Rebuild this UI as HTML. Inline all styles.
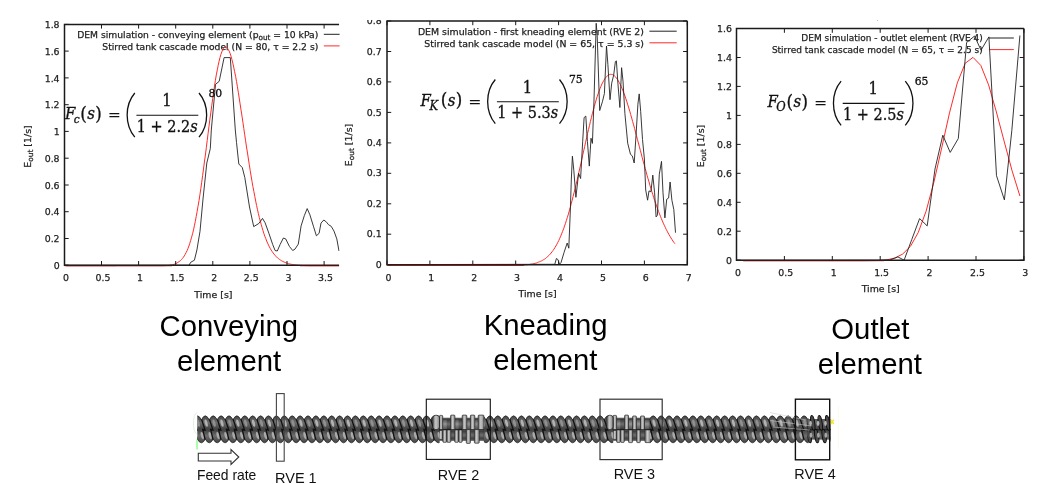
<!DOCTYPE html>
<html><head><meta charset="utf-8"><title>RTD</title>
<style>html,body{margin:0;padding:0;background:#fff}svg{display:block}</style></head>
<body>
<svg width="1063" height="484" viewBox="0 0 1063 484">
<defs>
<clipPath id="c1"><rect x="0" y="0" width="339.6" height="300"/></clipPath>
<clipPath id="c2"><rect x="340" y="20" width="352" height="285"/></clipPath>
</defs>
<rect width="1063" height="484" fill="#fff"/>
<g clip-path="url(#c1)">
<text x="65.9" y="281.1" text-anchor="middle" font-family="DejaVu Sans, Liberation Sans, sans-serif" stroke="#222" stroke-width="0.25" font-size="9.4" fill="#222">0</text>
<text x="102.9" y="281.1" text-anchor="middle" font-family="DejaVu Sans, Liberation Sans, sans-serif" stroke="#222" stroke-width="0.25" font-size="9.4" fill="#222">0.5</text>
<text x="140.0" y="281.1" text-anchor="middle" font-family="DejaVu Sans, Liberation Sans, sans-serif" stroke="#222" stroke-width="0.25" font-size="9.4" fill="#222">1</text>
<text x="177.1" y="281.1" text-anchor="middle" font-family="DejaVu Sans, Liberation Sans, sans-serif" stroke="#222" stroke-width="0.25" font-size="9.4" fill="#222">1.5</text>
<text x="214.2" y="281.1" text-anchor="middle" font-family="DejaVu Sans, Liberation Sans, sans-serif" stroke="#222" stroke-width="0.25" font-size="9.4" fill="#222">2</text>
<text x="251.3" y="281.1" text-anchor="middle" font-family="DejaVu Sans, Liberation Sans, sans-serif" stroke="#222" stroke-width="0.25" font-size="9.4" fill="#222">2.5</text>
<text x="288.4" y="281.1" text-anchor="middle" font-family="DejaVu Sans, Liberation Sans, sans-serif" stroke="#222" stroke-width="0.25" font-size="9.4" fill="#222">3</text>
<text x="325.5" y="281.1" text-anchor="middle" font-family="DejaVu Sans, Liberation Sans, sans-serif" stroke="#222" stroke-width="0.25" font-size="9.4" fill="#222">3.5</text>
<text x="59.6" y="268.9" text-anchor="end" font-family="DejaVu Sans, Liberation Sans, sans-serif" stroke="#222" stroke-width="0.25" font-size="9.4" fill="#222">0</text>
<text x="59.6" y="242.2" text-anchor="end" font-family="DejaVu Sans, Liberation Sans, sans-serif" stroke="#222" stroke-width="0.25" font-size="9.4" fill="#222">0.2</text>
<text x="59.6" y="215.4" text-anchor="end" font-family="DejaVu Sans, Liberation Sans, sans-serif" stroke="#222" stroke-width="0.25" font-size="9.4" fill="#222">0.4</text>
<text x="59.6" y="188.7" text-anchor="end" font-family="DejaVu Sans, Liberation Sans, sans-serif" stroke="#222" stroke-width="0.25" font-size="9.4" fill="#222">0.6</text>
<text x="59.6" y="161.9" text-anchor="end" font-family="DejaVu Sans, Liberation Sans, sans-serif" stroke="#222" stroke-width="0.25" font-size="9.4" fill="#222">0.8</text>
<text x="59.6" y="135.1" text-anchor="end" font-family="DejaVu Sans, Liberation Sans, sans-serif" stroke="#222" stroke-width="0.25" font-size="9.4" fill="#222">1</text>
<text x="59.6" y="108.4" text-anchor="end" font-family="DejaVu Sans, Liberation Sans, sans-serif" stroke="#222" stroke-width="0.25" font-size="9.4" fill="#222">1.2</text>
<text x="59.6" y="81.6" text-anchor="end" font-family="DejaVu Sans, Liberation Sans, sans-serif" stroke="#222" stroke-width="0.25" font-size="9.4" fill="#222">1.4</text>
<text x="59.6" y="54.8" text-anchor="end" font-family="DejaVu Sans, Liberation Sans, sans-serif" stroke="#222" stroke-width="0.25" font-size="9.4" fill="#222">1.6</text>
<text x="59.6" y="28.1" text-anchor="end" font-family="DejaVu Sans, Liberation Sans, sans-serif" stroke="#222" stroke-width="0.25" font-size="9.4" fill="#222">1.8</text>
<text transform="translate(30.5 146.5) rotate(-90)" text-anchor="middle" font-family="DejaVu Sans, Liberation Sans, sans-serif" stroke="#222" stroke-width="0.25" font-size="9.4" fill="#222">E<tspan font-size="7.4" dy="2">out</tspan><tspan dy="-2"> [1/s]</tspan></text>
<text x="213.4" y="297.5" text-anchor="middle" font-family="DejaVu Sans, Liberation Sans, sans-serif" stroke="#222" stroke-width="0.25" font-size="9.4" fill="#222">Time [s]</text>
<text x="77.2" y="38.1" textLength="241.1" lengthAdjust="spacingAndGlyphs" font-family="DejaVu Sans, Liberation Sans, sans-serif" stroke="#222" stroke-width="0.25" font-size="9.4" fill="#222">DEM simulation - conveying element (p<tspan font-size="7.4" dy="2">out</tspan><tspan dy="-2"> = 10 kPa)</tspan></text>
<text x="102.3" y="49.6" textLength="216.0" lengthAdjust="spacingAndGlyphs" font-family="DejaVu Sans, Liberation Sans, sans-serif" stroke="#222" stroke-width="0.25" font-size="9.4" fill="#222">Stirred tank cascade model (N = 80, τ = 2.2 s)</text>
<path d="M323.8 34.3H345.0" stroke="#222" stroke-width="1"/>
<path d="M323.8 45.9H345.0" stroke="#ff2a2a" stroke-width="1"/>
<polyline points="64.5,265.8 65.4,265.8 66.3,265.8 67.2,265.8 68.1,265.8 69.0,265.8 69.9,265.8 70.9,265.8 71.8,265.8 72.7,265.8 73.6,265.8 74.5,265.8 75.4,265.8 76.3,265.8 77.3,265.8 78.2,265.8 79.1,265.8 80.0,265.8 80.9,265.8 81.8,265.8 82.8,265.8 83.7,265.8 84.6,265.8 85.5,265.8 86.4,265.8 87.3,265.8 88.2,265.8 89.2,265.8 90.1,265.8 91.0,265.8 91.9,265.8 92.8,265.8 93.7,265.8 94.6,265.8 95.6,265.8 96.5,265.8 97.4,265.8 98.3,265.8 99.2,265.8 100.1,265.8 101.1,265.8 102.0,265.8 102.9,265.8 103.8,265.8 104.7,265.8 105.6,265.8 106.5,265.8 107.5,265.8 108.4,265.8 109.3,265.8 110.2,265.8 111.1,265.8 112.0,265.8 112.9,265.8 113.9,265.8 114.8,265.8 115.7,265.8 116.6,265.7 117.5,265.7 118.4,265.7 119.4,265.7 120.3,265.7 121.2,265.7 122.1,265.7 123.0,265.7 123.9,265.7 124.8,265.7 125.8,265.7 126.7,265.7 127.6,265.7 128.5,265.7 129.4,265.7 130.3,265.7 131.2,265.7 132.2,265.7 133.1,265.7 134.0,265.7 134.9,265.7 135.8,265.7 136.7,265.7 137.7,265.7 138.6,265.7 139.5,265.7 140.4,265.7 141.3,265.7 142.2,265.7 143.1,265.7 144.1,265.7 145.0,265.7 145.9,265.7 146.8,265.7 147.7,265.7 148.6,265.7 149.5,265.7 150.5,265.7 151.4,265.7 152.3,265.7 153.2,265.7 154.1,265.7 155.0,265.7 156.0,265.7 156.9,265.7 157.8,265.7 158.7,265.7 159.6,265.7 160.5,265.7 161.4,265.7 162.4,265.7 163.3,265.7 164.2,265.6 165.1,265.6 166.0,265.6 166.9,265.5 167.8,265.5 168.8,265.4 169.7,265.3 170.6,265.1 171.5,265.0 172.4,264.8 173.3,264.5 174.3,264.3 175.2,263.9 176.1,263.5 177.0,263.0 177.9,262.4 178.8,261.8 179.7,261.2 180.7,260.4 181.6,259.5 182.5,258.4 183.4,257.2 184.3,255.9 185.2,254.3 186.1,252.6 187.1,250.6 188.0,248.4 188.9,246.0 189.8,243.3 190.7,240.4 191.6,237.2 192.6,233.7 193.5,229.9 194.4,225.8 195.3,221.4 196.2,216.6 197.1,211.6 198.0,206.3 199.0,200.7 199.9,194.8 200.8,188.7 201.7,182.3 202.6,175.7 203.5,169.0 204.4,162.0 205.4,155.0 206.3,147.8 207.2,140.6 208.1,133.4 209.0,126.2 209.9,119.1 210.9,112.1 211.8,105.2 212.7,98.6 213.6,92.2 214.5,86.1 215.4,80.3 216.3,74.9 217.3,69.9 218.2,65.3 219.1,61.2 220.0,57.5 220.9,54.4 221.8,51.9 222.7,49.8 223.7,48.3 224.6,47.4 225.5,47.1 226.4,47.2 227.3,48.0 228.2,49.3 229.2,51.1 230.1,53.4 231.0,56.2 231.9,59.4 232.8,63.1 233.7,67.1 234.6,71.6 235.6,76.3 236.5,81.4 237.4,86.7 238.3,92.3 239.2,98.0 240.1,103.9 241.0,109.9 242.0,116.1 242.9,122.2 243.8,128.5 244.7,134.7 245.6,140.8 246.5,147.0 247.5,153.0 248.4,159.0 249.3,164.8 250.2,170.5 251.1,176.0 252.0,181.4 252.9,186.6 253.9,191.6 254.8,196.5 255.7,201.1 256.6,205.5 257.5,209.7 258.4,213.7 259.3,217.5 260.3,221.1 261.2,224.5 262.1,227.7 263.0,230.7 263.9,233.6 264.8,236.2 265.8,238.7 266.7,241.0 267.6,243.1 268.5,245.1 269.4,246.9 270.3,248.6 271.2,250.1 272.2,251.6 273.1,252.9 274.0,254.1 274.9,255.2 275.8,256.2 276.7,257.1 277.6,258.0 278.6,258.7 279.5,259.4 280.4,260.0 281.3,260.6 282.2,261.1 283.1,261.6 284.1,262.0 285.0,262.4 285.9,262.8 286.8,263.1 287.7,263.4 288.6,263.7 289.5,263.9 290.5,264.1 291.4,264.3 292.3,264.5 293.2,264.7 294.1,264.8 295.0,264.9 295.9,265.0 296.9,265.1 297.8,265.2 298.7,265.3 299.6,265.3 300.5,265.4 301.4,265.4 302.4,265.5 303.3,265.5 304.2,265.5 305.1,265.6 306.0,265.6 306.9,265.6 307.8,265.6 308.8,265.7 309.7,265.7 310.6,265.7 311.5,265.7 312.4,265.7 313.3,265.7 314.2,265.7 315.2,265.7 316.1,265.7 317.0,265.7 317.9,265.7 318.8,265.7 319.7,265.7 320.7,265.7 321.6,265.7 322.5,265.7 323.4,265.7 324.3,265.7 325.2,265.7 326.1,265.7 327.1,265.7 328.0,265.7 328.9,265.7 329.8,265.7 330.7,265.7 331.6,265.7 332.5,265.7 333.5,265.7 334.4,265.7 335.3,265.7 336.2,265.7 337.1,265.7 338.0,265.7 339.0,265.7" fill="none" stroke="#ff2a2a" stroke-width="1" stroke-linejoin="round"/>
<path d="M339.1 24.4L64.5 24.4L64.5 265.2L339.1 265.2" fill="none" stroke="#1a1a1a" stroke-width="1.5"/>
<path d="M64.5 265.2v-4.2M64.5 24.4v4.2M101.5 265.2v-4.2M101.5 24.4v4.2M138.6 265.2v-4.2M138.6 24.4v4.2M175.7 265.2v-4.2M175.7 24.4v4.2M212.8 265.2v-4.2M212.8 24.4v4.2M249.9 265.2v-4.2M249.9 24.4v4.2M287.0 265.2v-4.2M287.0 24.4v4.2M324.1 265.2v-4.2M324.1 24.4v4.2M64.5 265.2h4.2M64.5 238.5h4.2M64.5 211.7h4.2M64.5 185.0h4.2M64.5 158.2h4.2M64.5 131.4h4.2M64.5 104.7h4.2M64.5 77.9h4.2M64.5 51.1h4.2M64.5 24.4h4.2" fill="none" stroke="#1a1a1a" stroke-width="1"/>
<path d="M66 265.75H172M300 265.75H339.1" stroke="#7a0000" stroke-width="0.8"/>
<polyline points="64.5,265.3 189.0,265.3 190.7,262.3 194.4,260.2 196.9,250.0 200.0,231.3 203.0,199.0 206.8,163.0 210.3,148.6 211.3,130.0 215.5,84.4 219.2,81.3 224.1,57.6 230.3,57.6 235.3,130.0 236.5,142.4 238.8,164.0 242.3,167.6 244.8,177.5 249.5,207.0 253.7,226.6 258.8,223.5 262.5,218.4 265.1,222.8 268.9,233.3 272.7,244.5 275.1,250.5 277.3,251.0 280.1,244.5 283.4,238.0 285.7,238.9 289.4,246.4 292.7,250.5 295.0,249.1 298.3,244.1 301.1,225.9 304.3,215.7 307.2,208.6 309.9,214.8 313.6,226.8 316.4,235.8 319.1,233.3 321.0,223.1 323.8,220.0 326.6,222.2 328.4,224.6 331.2,226.3 334.0,231.1 336.8,238.9 339.0,251.0" fill="none" stroke="#222" stroke-width="0.9" stroke-linejoin="round"/>
</g>
<g clip-path="url(#c2)">
<text x="388.4" y="280.6" text-anchor="middle" font-family="DejaVu Sans, Liberation Sans, sans-serif" stroke="#222" stroke-width="0.25" font-size="9.4" fill="#222">0</text>
<text x="431.3" y="280.6" text-anchor="middle" font-family="DejaVu Sans, Liberation Sans, sans-serif" stroke="#222" stroke-width="0.25" font-size="9.4" fill="#222">1</text>
<text x="474.2" y="280.6" text-anchor="middle" font-family="DejaVu Sans, Liberation Sans, sans-serif" stroke="#222" stroke-width="0.25" font-size="9.4" fill="#222">2</text>
<text x="517.1" y="280.6" text-anchor="middle" font-family="DejaVu Sans, Liberation Sans, sans-serif" stroke="#222" stroke-width="0.25" font-size="9.4" fill="#222">3</text>
<text x="560.0" y="280.6" text-anchor="middle" font-family="DejaVu Sans, Liberation Sans, sans-serif" stroke="#222" stroke-width="0.25" font-size="9.4" fill="#222">4</text>
<text x="602.9" y="280.6" text-anchor="middle" font-family="DejaVu Sans, Liberation Sans, sans-serif" stroke="#222" stroke-width="0.25" font-size="9.4" fill="#222">5</text>
<text x="645.8" y="280.6" text-anchor="middle" font-family="DejaVu Sans, Liberation Sans, sans-serif" stroke="#222" stroke-width="0.25" font-size="9.4" fill="#222">6</text>
<text x="688.7" y="280.6" text-anchor="middle" font-family="DejaVu Sans, Liberation Sans, sans-serif" stroke="#222" stroke-width="0.25" font-size="9.4" fill="#222">7</text>
<text x="381.7" y="267.8" text-anchor="end" font-family="DejaVu Sans, Liberation Sans, sans-serif" stroke="#222" stroke-width="0.25" font-size="9.4" fill="#222">0</text>
<text x="381.7" y="237.3" text-anchor="end" font-family="DejaVu Sans, Liberation Sans, sans-serif" stroke="#222" stroke-width="0.25" font-size="9.4" fill="#222">0.1</text>
<text x="381.7" y="206.9" text-anchor="end" font-family="DejaVu Sans, Liberation Sans, sans-serif" stroke="#222" stroke-width="0.25" font-size="9.4" fill="#222">0.2</text>
<text x="381.7" y="176.4" text-anchor="end" font-family="DejaVu Sans, Liberation Sans, sans-serif" stroke="#222" stroke-width="0.25" font-size="9.4" fill="#222">0.3</text>
<text x="381.7" y="146.0" text-anchor="end" font-family="DejaVu Sans, Liberation Sans, sans-serif" stroke="#222" stroke-width="0.25" font-size="9.4" fill="#222">0.4</text>
<text x="381.7" y="115.5" text-anchor="end" font-family="DejaVu Sans, Liberation Sans, sans-serif" stroke="#222" stroke-width="0.25" font-size="9.4" fill="#222">0.5</text>
<text x="381.7" y="85.0" text-anchor="end" font-family="DejaVu Sans, Liberation Sans, sans-serif" stroke="#222" stroke-width="0.25" font-size="9.4" fill="#222">0.6</text>
<text x="381.7" y="54.6" text-anchor="end" font-family="DejaVu Sans, Liberation Sans, sans-serif" stroke="#222" stroke-width="0.25" font-size="9.4" fill="#222">0.7</text>
<text x="381.7" y="24.1" text-anchor="end" font-family="DejaVu Sans, Liberation Sans, sans-serif" stroke="#222" stroke-width="0.25" font-size="9.4" fill="#222">0.8</text>
<text transform="translate(351.6 145.0) rotate(-90)" text-anchor="middle" font-family="DejaVu Sans, Liberation Sans, sans-serif" stroke="#222" stroke-width="0.25" font-size="9.4" fill="#222">E<tspan font-size="7.4" dy="2">out</tspan><tspan dy="-2"> [1/s]</tspan></text>
<text x="537.6" y="297.3" text-anchor="middle" font-family="DejaVu Sans, Liberation Sans, sans-serif" stroke="#222" stroke-width="0.25" font-size="9.4" fill="#222">Time [s]</text>
<text x="417.9" y="35.2" textLength="226.0" lengthAdjust="spacingAndGlyphs" font-family="DejaVu Sans, Liberation Sans, sans-serif" stroke="#222" stroke-width="0.25" font-size="9.4" fill="#222">DEM simulation - first kneading element (RVE 2)</text>
<text x="424.3" y="47.0" textLength="219.6" lengthAdjust="spacingAndGlyphs" font-family="DejaVu Sans, Liberation Sans, sans-serif" stroke="#222" stroke-width="0.25" font-size="9.4" fill="#222">Stirred tank cascade model (N = 65, τ = 5.3 s)</text>
<path d="M649.4 31.2H676.7" stroke="#222" stroke-width="1"/>
<path d="M649.4 42.8H676.7" stroke="#ff2a2a" stroke-width="1"/>
<polyline points="387.0,265.2 388.0,265.2 388.9,265.2 389.9,265.2 390.8,265.2 391.8,265.2 392.8,265.2 393.7,265.2 394.7,265.2 395.6,265.2 396.6,265.2 397.6,265.2 398.5,265.2 399.5,265.2 400.4,265.2 401.4,265.2 402.4,265.2 403.3,265.2 404.3,265.2 405.2,265.2 406.2,265.2 407.2,265.2 408.1,265.2 409.1,265.2 410.0,265.2 411.0,265.2 411.9,265.2 412.9,265.2 413.9,265.2 414.8,265.2 415.8,265.2 416.7,265.2 417.7,265.2 418.7,265.2 419.6,265.2 420.6,265.2 421.5,265.2 422.5,265.2 423.5,265.2 424.4,265.2 425.4,265.2 426.3,265.2 427.3,265.2 428.3,265.2 429.2,265.2 430.2,265.2 431.1,265.2 432.1,265.2 433.1,265.2 434.0,265.2 435.0,265.2 435.9,265.2 436.9,265.2 437.9,265.2 438.8,265.2 439.8,265.2 440.7,265.2 441.7,265.2 442.7,265.2 443.6,265.2 444.6,265.2 445.5,265.2 446.5,265.2 447.5,265.2 448.4,265.2 449.4,265.2 450.3,265.2 451.3,265.2 452.2,265.2 453.2,265.2 454.2,265.2 455.1,265.2 456.1,265.2 457.0,265.2 458.0,265.2 459.0,265.2 459.9,265.2 460.9,265.2 461.8,265.2 462.8,265.2 463.8,265.2 464.7,265.2 465.7,265.2 466.6,265.2 467.6,265.2 468.6,265.2 469.5,265.2 470.5,265.2 471.4,265.2 472.4,265.2 473.4,265.2 474.3,265.2 475.3,265.2 476.2,265.2 477.2,265.2 478.2,265.2 479.1,265.2 480.1,265.2 481.0,265.2 482.0,265.2 483.0,265.2 483.9,265.2 484.9,265.2 485.8,265.2 486.8,265.2 487.8,265.2 488.7,265.2 489.7,265.2 490.6,265.2 491.6,265.2 492.5,265.2 493.5,265.2 494.5,265.2 495.4,265.2 496.4,265.2 497.3,265.2 498.3,265.2 499.3,265.2 500.2,265.2 501.2,265.2 502.1,265.2 503.1,265.2 504.1,265.2 505.0,265.2 506.0,265.2 506.9,265.2 507.9,265.2 508.9,265.2 509.8,265.2 510.8,265.2 511.7,265.2 512.7,265.2 513.7,265.2 514.6,265.2 515.6,265.1 516.5,265.1 517.5,265.1 518.5,265.1 519.4,265.1 520.4,265.0 521.3,265.0 522.3,265.0 523.3,264.9 524.2,264.9 525.2,264.8 526.1,264.8 527.1,264.7 528.1,264.6 529.0,264.5 530.0,264.4 530.9,264.2 531.9,264.1 532.8,263.9 533.8,263.7 534.8,263.4 535.7,263.2 536.7,262.9 537.6,262.5 538.6,262.1 539.6,261.7 540.5,261.3 541.5,260.9 542.4,260.4 543.4,259.8 544.4,259.2 545.3,258.6 546.3,257.8 547.2,257.0 548.2,256.1 549.2,255.2 550.1,254.2 551.1,253.0 552.0,251.8 553.0,250.5 554.0,249.1 554.9,247.6 555.9,246.0 556.8,244.3 557.8,242.4 558.8,240.5 559.7,238.4 560.7,236.2 561.6,233.9 562.6,231.4 563.6,228.8 564.5,226.1 565.5,223.3 566.4,220.4 567.4,217.3 568.4,214.1 569.3,210.8 570.3,207.4 571.2,203.8 572.2,200.2 573.1,196.4 574.1,192.6 575.1,188.7 576.0,184.7 577.0,180.6 577.9,176.4 578.9,172.2 579.9,168.0 580.8,163.7 581.8,159.4 582.7,155.1 583.7,150.8 584.7,146.4 585.6,142.2 586.6,137.9 587.5,133.7 588.5,129.5 589.5,125.5 590.4,121.5 591.4,117.6 592.3,113.8 593.3,110.1 594.3,106.6 595.2,103.1 596.2,99.9 597.1,96.8 598.1,93.9 599.1,91.1 600.0,88.6 601.0,86.2 601.9,84.0 602.9,82.1 603.9,80.3 604.8,78.8 605.8,77.5 606.7,76.4 607.7,75.6 608.7,74.9 609.6,74.5 610.6,74.3 611.5,74.4 612.5,74.6 613.4,75.1 614.4,75.8 615.4,76.7 616.3,77.9 617.3,79.2 618.2,80.7 619.2,82.4 620.2,84.3 621.1,86.3 622.1,88.6 623.0,90.9 624.0,93.5 625.0,96.1 625.9,98.9 626.9,101.9 627.8,104.9 628.8,108.0 629.8,111.3 630.7,114.6 631.7,118.0 632.6,121.4 633.6,124.9 634.6,128.5 635.5,132.1 636.5,135.7 637.4,139.3 638.4,143.0 639.4,146.7 640.3,150.3 641.3,153.9 642.2,157.6 643.2,161.2 644.2,164.7 645.1,168.3 646.1,171.7 647.0,175.2 648.0,178.6 649.0,181.9 649.9,185.2 650.9,188.4 651.8,191.5 652.8,194.6 653.7,197.6 654.7,200.5 655.7,203.4 656.6,206.1 657.6,208.8 658.5,211.4 659.5,213.9 660.5,216.4 661.4,218.7 662.4,221.0 663.3,223.2 664.3,225.3 665.3,227.4 666.2,229.4 667.2,231.2 668.1,233.0 669.1,234.8 670.1,236.4 671.0,238.0 672.0,239.5 672.9,241.0 673.9,242.4 674.9,243.7" fill="none" stroke="#ff2a2a" stroke-width="1" stroke-linejoin="round"/>
<path d="M687.3 21.0L387.0 21.0L387.0 264.7L687.3 264.7L687.3 21.0" fill="none" stroke="#1a1a1a" stroke-width="1.5"/>
<path d="M387.0 264.7v-4.2M387.0 21.0v4.2M429.9 264.7v-4.2M429.9 21.0v4.2M472.8 264.7v-4.2M472.8 21.0v4.2M515.7 264.7v-4.2M515.7 21.0v4.2M558.6 264.7v-4.2M558.6 21.0v4.2M601.5 264.7v-4.2M601.5 21.0v4.2M644.4 264.7v-4.2M644.4 21.0v4.2M687.3 264.7v-4.2M687.3 21.0v4.2M387.0 264.7h4.2M687.3 264.7h-4.2M387.0 234.2h4.2M687.3 234.2h-4.2M387.0 203.8h4.2M687.3 203.8h-4.2M387.0 173.3h4.2M687.3 173.3h-4.2M387.0 142.9h4.2M687.3 142.9h-4.2M387.0 112.4h4.2M687.3 112.4h-4.2M387.0 81.9h4.2M687.3 81.9h-4.2M387.0 51.5h4.2M687.3 51.5h-4.2M387.0 21.0h4.2M687.3 21.0h-4.2" fill="none" stroke="#1a1a1a" stroke-width="1"/>
<path d="M388.5 265.2H524" stroke="#7a0000" stroke-width="0.8"/>
<polyline points="386.8,264.6 554.8,264.3 556.4,258.5 557.9,259.5 559.5,264.3 561.0,262.6 564.1,252.3 567.2,243.0 568.8,248.2 570.3,211.0 571.3,180.0 572.4,156.2 573.8,170.2 575.9,197.3 578.6,173.3 580.6,178.5 582.7,141.3 584.1,117.6 585.8,116.1 587.4,141.3 589.3,166.1 591.0,138.2 592.4,143.4 594.0,100.0 596.2,23.3 597.2,35.7 599.7,110.5 602.4,101.8 604.4,93.5 606.5,46.0 607.9,64.6 610.0,99.7 611.7,83.2 613.7,75.0 615.4,61.5 616.4,60.9 617.9,83.2 619.9,107.5 621.6,67.7 623.0,81.1 624.9,113.5 627.7,143.2 630.5,154.4 632.3,155.9 634.2,163.0 636.0,135.8 637.9,104.2 639.2,93.9 640.7,111.6 642.5,139.5 644.4,159.0 645.7,190.0 647.6,200.2 649.0,190.9 650.9,191.8 652.8,175.1 654.6,192.8 656.1,216.9 657.4,215.1 659.3,174.2 661.5,161.4 663.0,192.8 664.9,217.9 666.7,199.3 668.6,198.0 670.1,182.0 671.9,200.2 673.8,209.5 675.5,232.7" fill="none" stroke="#222" stroke-width="0.9" stroke-linejoin="round"/>
</g>
<text x="737.9" y="275.9" text-anchor="middle" font-family="DejaVu Sans, Liberation Sans, sans-serif" stroke="#222" stroke-width="0.25" font-size="9.4" fill="#222">0</text>
<text x="785.8" y="275.9" text-anchor="middle" font-family="DejaVu Sans, Liberation Sans, sans-serif" stroke="#222" stroke-width="0.25" font-size="9.4" fill="#222">0.5</text>
<text x="833.7" y="275.9" text-anchor="middle" font-family="DejaVu Sans, Liberation Sans, sans-serif" stroke="#222" stroke-width="0.25" font-size="9.4" fill="#222">1</text>
<text x="881.6" y="275.9" text-anchor="middle" font-family="DejaVu Sans, Liberation Sans, sans-serif" stroke="#222" stroke-width="0.25" font-size="9.4" fill="#222">1.5</text>
<text x="929.5" y="275.9" text-anchor="middle" font-family="DejaVu Sans, Liberation Sans, sans-serif" stroke="#222" stroke-width="0.25" font-size="9.4" fill="#222">2</text>
<text x="977.4" y="275.9" text-anchor="middle" font-family="DejaVu Sans, Liberation Sans, sans-serif" stroke="#222" stroke-width="0.25" font-size="9.4" fill="#222">2.5</text>
<text x="1025.3" y="275.9" text-anchor="middle" font-family="DejaVu Sans, Liberation Sans, sans-serif" stroke="#222" stroke-width="0.25" font-size="9.4" fill="#222">3</text>
<text x="732.0" y="263.9" text-anchor="end" font-family="DejaVu Sans, Liberation Sans, sans-serif" stroke="#222" stroke-width="0.25" font-size="9.4" fill="#222">0</text>
<text x="732.0" y="234.9" text-anchor="end" font-family="DejaVu Sans, Liberation Sans, sans-serif" stroke="#222" stroke-width="0.25" font-size="9.4" fill="#222">0.2</text>
<text x="732.0" y="206.0" text-anchor="end" font-family="DejaVu Sans, Liberation Sans, sans-serif" stroke="#222" stroke-width="0.25" font-size="9.4" fill="#222">0.4</text>
<text x="732.0" y="177.0" text-anchor="end" font-family="DejaVu Sans, Liberation Sans, sans-serif" stroke="#222" stroke-width="0.25" font-size="9.4" fill="#222">0.6</text>
<text x="732.0" y="148.1" text-anchor="end" font-family="DejaVu Sans, Liberation Sans, sans-serif" stroke="#222" stroke-width="0.25" font-size="9.4" fill="#222">0.8</text>
<text x="732.0" y="119.1" text-anchor="end" font-family="DejaVu Sans, Liberation Sans, sans-serif" stroke="#222" stroke-width="0.25" font-size="9.4" fill="#222">1</text>
<text x="732.0" y="90.1" text-anchor="end" font-family="DejaVu Sans, Liberation Sans, sans-serif" stroke="#222" stroke-width="0.25" font-size="9.4" fill="#222">1.2</text>
<text x="732.0" y="61.2" text-anchor="end" font-family="DejaVu Sans, Liberation Sans, sans-serif" stroke="#222" stroke-width="0.25" font-size="9.4" fill="#222">1.4</text>
<text x="732.0" y="32.2" text-anchor="end" font-family="DejaVu Sans, Liberation Sans, sans-serif" stroke="#222" stroke-width="0.25" font-size="9.4" fill="#222">1.6</text>
<text transform="translate(704.0 146.0) rotate(-90)" text-anchor="middle" font-family="DejaVu Sans, Liberation Sans, sans-serif" stroke="#222" stroke-width="0.25" font-size="9.4" fill="#222">E<tspan font-size="7.4" dy="2">out</tspan><tspan dy="-2"> [1/s]</tspan></text>
<text x="880.7" y="291.8" text-anchor="middle" font-family="DejaVu Sans, Liberation Sans, sans-serif" stroke="#222" stroke-width="0.25" font-size="9.4" fill="#222">Time [s]</text>
<text x="801.3" y="41.2" textLength="181.4" lengthAdjust="spacingAndGlyphs" font-family="DejaVu Sans, Liberation Sans, sans-serif" stroke="#222" stroke-width="0.25" font-size="9.4" fill="#222">DEM simulation - outlet element (RVE 4)</text>
<text x="771.9" y="53.0" textLength="210.8" lengthAdjust="spacingAndGlyphs" font-family="DejaVu Sans, Liberation Sans, sans-serif" stroke="#222" stroke-width="0.25" font-size="9.4" fill="#222">Stirred tank cascade model (N = 65, τ = 2.5 s)</text>
<path d="M988.9 38.0H1013.8" stroke="#222" stroke-width="1"/>
<path d="M988.9 49.6H1013.8" stroke="#ff2a2a" stroke-width="1"/>
<polyline points="743.2,260.7 746.2,260.7 754.0,260.7 761.8,260.7 769.7,260.7 777.5,260.7 785.3,260.7 793.1,260.7 800.9,260.7 808.8,260.7 816.6,260.7 824.4,260.7 832.2,260.7 840.0,260.7 847.9,260.7 855.7,260.7 863.5,260.7 871.3,260.6 879.1,260.5 887.0,259.8 894.8,258.0 902.6,254.1 910.4,246.4 918.2,232.6 926.1,211.2 933.9,182.2 941.7,147.9 949.5,112.9 957.3,82.9 965.2,63.3 973.0,57.4 980.8,65.4 988.6,84.9 996.4,112.0 1004.3,141.9 1012.1,170.8 1019.9,196.0" fill="none" stroke="#ff2a2a" stroke-width="1" stroke-linejoin="round"/>
<path d="M1023.9 28.6L736.5 28.6L736.5 260.2L1023.9 260.2L1023.9 28.6" fill="none" stroke="#1a1a1a" stroke-width="1.5"/>
<path d="M736.5 260.2v-4.2M736.5 28.6v4.2M784.4 260.2v-4.2M784.4 28.6v4.2M832.3 260.2v-4.2M832.3 28.6v4.2M880.2 260.2v-4.2M880.2 28.6v4.2M928.1 260.2v-4.2M928.1 28.6v4.2M976.0 260.2v-4.2M976.0 28.6v4.2M1023.9 260.2v-4.2M1023.9 28.6v4.2M736.5 260.2h4.2M1023.9 260.2h-4.2M736.5 231.2h4.2M1023.9 231.2h-4.2M736.5 202.3h4.2M1023.9 202.3h-4.2M736.5 173.3h4.2M1023.9 173.3h-4.2M736.5 144.4h4.2M1023.9 144.4h-4.2M736.5 115.4h4.2M1023.9 115.4h-4.2M736.5 86.4h4.2M1023.9 86.4h-4.2M736.5 57.5h4.2M1023.9 57.5h-4.2M736.5 28.5h4.2M1023.9 28.5h-4.2" fill="none" stroke="#1a1a1a" stroke-width="1"/>
<path d="M743.2 260.7H884" stroke="#7a0000" stroke-width="0.8"/>
<polyline points="736.6,260.3 889.6,260.2 897.9,256.9 904.1,260.2 911.8,239.4 919.6,218.6 927.2,225.9 935.0,169.0 942.8,135.2 950.2,152.4 958.3,138.5 966.6,42.5 974.6,36.0 981.0,50.2 988.9,36.9 996.5,175.7 1004.4,199.9 1011.8,130.7 1019.9,35.5" fill="none" stroke="#222" stroke-width="0.9" stroke-linejoin="round"/>
<g transform="translate(0.0 0.0)" fill="#111" stroke="#111" stroke-width="0.3" font-family="DejaVu Serif Condensed, DejaVu Serif, Liberation Serif, serif">
<text x="65.0" y="119.2" font-size="16.6" font-style="italic">F</text>
<text x="73.8" y="123.0" font-size="11.8" font-style="italic">c</text>
<g transform="translate(0.0 0)">
<text x="80.2" y="119.6" font-size="18.6">(</text>
<text x="87.2" y="119.2" font-size="16.6" font-style="italic">s</text>
<text x="95.2" y="119.6" font-size="18.6">)</text>
<text x="107.8" y="120.0" font-size="17.5" stroke="none">=</text>
<path d="M134.8 93.0 C124.6 105 124.6 125 134.8 137.2" fill="none" stroke="#111" stroke-width="1.3"/>
<path d="M199.0 93.0 C209.2 105 209.2 125 199.0 137.2" fill="none" stroke="#111" stroke-width="1.3"/>
<text x="166.9" y="106.4" font-size="16.4" text-anchor="middle">1</text>
<path d="M136.4 115.3H198.3" stroke="#111" stroke-width="1.1"/>
<text x="167.2" y="131.6" font-size="16.4" text-anchor="middle" textLength="60.8" lengthAdjust="spacingAndGlyphs">1 + 2.2<tspan font-style="italic">s</tspan></text>
<text x="208.4" y="96.6" font-size="11.8" textLength="13.8" lengthAdjust="spacingAndGlyphs">80</text>
</g></g>
<g transform="translate(355.6 -13.5)" fill="#111" stroke="#111" stroke-width="0.3" font-family="DejaVu Serif Condensed, DejaVu Serif, Liberation Serif, serif">
<text x="65.0" y="119.2" font-size="16.6" font-style="italic">F</text>
<text x="73.8" y="123.0" font-size="12.8" font-style="italic">K</text>
<g transform="translate(4.9 0)">
<text x="80.2" y="119.6" font-size="18.6">(</text>
<text x="87.2" y="119.2" font-size="16.6" font-style="italic">s</text>
<text x="95.2" y="119.6" font-size="18.6">)</text>
<text x="107.8" y="120.0" font-size="17.5" stroke="none">=</text>
<path d="M134.8 93.0 C124.6 105 124.6 125 134.8 137.2" fill="none" stroke="#111" stroke-width="1.3"/>
<path d="M199.0 93.0 C209.2 105 209.2 125 199.0 137.2" fill="none" stroke="#111" stroke-width="1.3"/>
<text x="166.9" y="106.4" font-size="16.4" text-anchor="middle">1</text>
<path d="M136.4 115.3H198.3" stroke="#111" stroke-width="1.1"/>
<text x="167.2" y="131.6" font-size="16.4" text-anchor="middle" textLength="60.8" lengthAdjust="spacingAndGlyphs">1 + 5.3<tspan font-style="italic">s</tspan></text>
<text x="208.4" y="96.6" font-size="11.8" textLength="13.8" lengthAdjust="spacingAndGlyphs">75</text>
</g></g>
<g transform="translate(702.4 -11.9)" fill="#111" stroke="#111" stroke-width="0.3" font-family="DejaVu Serif Condensed, DejaVu Serif, Liberation Serif, serif">
<text x="65.0" y="119.2" font-size="16.6" font-style="italic">F</text>
<text x="73.8" y="123.0" font-size="12.8" font-style="italic">O</text>
<g transform="translate(3.9 0)">
<text x="80.2" y="119.6" font-size="18.6">(</text>
<text x="87.2" y="119.2" font-size="16.6" font-style="italic">s</text>
<text x="95.2" y="119.6" font-size="18.6">)</text>
<text x="107.8" y="120.0" font-size="17.5" stroke="none">=</text>
<path d="M134.8 93.0 C124.6 105 124.6 125 134.8 137.2" fill="none" stroke="#111" stroke-width="1.3"/>
<path d="M199.0 93.0 C209.2 105 209.2 125 199.0 137.2" fill="none" stroke="#111" stroke-width="1.3"/>
<text x="166.9" y="106.4" font-size="16.4" text-anchor="middle">1</text>
<path d="M136.4 115.3H198.3" stroke="#111" stroke-width="1.1"/>
<text x="167.2" y="131.6" font-size="16.4" text-anchor="middle" textLength="60.8" lengthAdjust="spacingAndGlyphs">1 + 2.5<tspan font-style="italic">s</tspan></text>
<text x="208.4" y="96.6" font-size="11.8" textLength="13.8" lengthAdjust="spacingAndGlyphs">65</text>
</g></g>
<text x="228.8" y="335.8" text-anchor="middle" font-family="Liberation Sans, Arial, sans-serif" font-size="29.3" fill="#000">Conveying</text>
<text x="229.0" y="370.7" text-anchor="middle" font-family="Liberation Sans, Arial, sans-serif" font-size="29.3" fill="#000">element</text>
<text x="545.6" y="334.9" text-anchor="middle" font-family="Liberation Sans, Arial, sans-serif" font-size="29.3" fill="#000">Kneading</text>
<text x="545.4" y="369.8" text-anchor="middle" font-family="Liberation Sans, Arial, sans-serif" font-size="29.3" fill="#000">element</text>
<text x="870.4" y="339.0" text-anchor="middle" font-family="Liberation Sans, Arial, sans-serif" font-size="29.3" fill="#000">Outlet</text>
<text x="869.8" y="373.9" text-anchor="middle" font-family="Liberation Sans, Arial, sans-serif" font-size="29.3" fill="#000">element</text>
<defs><linearGradient id="sgrad" x1="0" y1="414.8" x2="0" y2="443.8" gradientUnits="userSpaceOnUse"><stop offset="0" stop-color="#404040"/><stop offset="0.27" stop-color="#6c6c6c"/><stop offset="0.47" stop-color="#464646"/><stop offset="0.53" stop-color="#424242"/><stop offset="0.72" stop-color="#6c6c6c"/><stop offset="1" stop-color="#404040"/></linearGradient><linearGradient id="disc" x1="0" y1="0" x2="1" y2="0"><stop offset="0" stop-color="#747474"/><stop offset="0.45" stop-color="#c8c8c8"/><stop offset="1" stop-color="#848484"/></linearGradient><linearGradient id="mid" x1="0" y1="0" x2="0" y2="1"><stop offset="0" stop-color="#555"/><stop offset="0.45" stop-color="#949494"/><stop offset="1" stop-color="#555"/></linearGradient><linearGradient id="shaft" x1="0" y1="0" x2="0" y2="1"><stop offset="0" stop-color="#303030"/><stop offset="0.5" stop-color="#6e6e6e"/><stop offset="1" stop-color="#343434"/></linearGradient><filter id="hb" x="-5%" y="-50%" width="110%" height="200%"><feGaussianBlur stdDeviation="0.7"/></filter></defs>
<rect x="433.0" y="418.6" width="51.2" height="10.9" fill="url(#shaft)"/>
<rect x="433.0" y="430.2" width="51.2" height="9.6" fill="url(#shaft)"/>
<rect x="433.0" y="418.2" width="51.2" height="22" fill="none" stroke="#1a1a1a" stroke-width="0.8"/>
<path d="M433.0 429.7H484.2" stroke="#151515" stroke-width="1.3"/>
<rect x="442.6" y="419.6" width="4.1" height="9.6" fill="url(#mid)"/>
<rect x="454.9" y="419.6" width="3.7" height="9.6" fill="url(#mid)"/>
<rect x="466.8" y="419.6" width="3.6" height="9.6" fill="url(#mid)"/>
<rect x="474.8" y="419.6" width="3.4" height="9.6" fill="url(#mid)"/>
<rect x="439.5" y="415.4" width="3.2" height="14.2" rx="0.8" fill="url(#disc)" stroke="#262626" stroke-width="0.7"/>
<rect x="450.6" y="415.1" width="4.3" height="14.5" rx="0.8" fill="url(#disc)" stroke="#262626" stroke-width="0.7"/>
<rect x="462.2" y="415.1" width="4.6" height="14.5" rx="0.8" fill="url(#disc)" stroke="#262626" stroke-width="0.7"/>
<rect x="470.4" y="415.1" width="4.4" height="14.5" rx="0.8" fill="url(#disc)" stroke="#262626" stroke-width="0.7"/>
<rect x="478.2" y="415.1" width="5.7" height="14.5" rx="0.8" fill="url(#disc)" stroke="#262626" stroke-width="0.7"/>
<rect x="442.8" y="429.9" width="3.9" height="12.4" rx="0.8" fill="url(#disc)" stroke="#262626" stroke-width="0.7"/>
<rect x="446.9" y="429.9" width="3.9" height="12.4" rx="0.8" fill="url(#disc)" stroke="#262626" stroke-width="0.7"/>
<rect x="454.7" y="429.9" width="3.7" height="12.4" rx="0.8" fill="url(#disc)" stroke="#262626" stroke-width="0.7"/>
<rect x="458.8" y="429.9" width="3.4" height="12.4" rx="0.8" fill="url(#disc)" stroke="#262626" stroke-width="0.7"/>
<rect x="466.3" y="429.6" width="4.1" height="13.8" rx="0.8" fill="url(#disc)" stroke="#262626" stroke-width="0.7"/>
<rect x="474.4" y="429.6" width="4.8" height="13.6" rx="0.8" fill="url(#disc)" stroke="#262626" stroke-width="0.7"/>
<rect x="438.9" y="430.4" width="3.6" height="9.0" rx="0.8" fill="url(#disc)" stroke="#262626" stroke-width="0.7"/>
<rect x="606.9" y="418.6" width="43.7" height="10.9" fill="url(#shaft)"/>
<rect x="606.9" y="430.2" width="43.7" height="9.6" fill="url(#shaft)"/>
<rect x="606.9" y="418.2" width="43.7" height="22" fill="none" stroke="#1a1a1a" stroke-width="0.8"/>
<path d="M606.9 429.7H650.6" stroke="#151515" stroke-width="1.3"/>
<rect x="616.6" y="419.6" width="3.6" height="9.6" fill="url(#mid)"/>
<rect x="629.0" y="419.6" width="3.3" height="9.6" fill="url(#mid)"/>
<rect x="636.7" y="419.6" width="3.6" height="9.6" fill="url(#mid)"/>
<rect x="644.7" y="419.6" width="4.1" height="9.6" fill="url(#mid)"/>
<rect x="613.0" y="415.4" width="3.6" height="14.2" rx="0.8" fill="url(#disc)" stroke="#262626" stroke-width="0.7"/>
<rect x="624.6" y="415.1" width="3.9" height="14.5" rx="0.8" fill="url(#disc)" stroke="#262626" stroke-width="0.7"/>
<rect x="632.6" y="416.0" width="3.8" height="13.6" rx="0.8" fill="url(#disc)" stroke="#262626" stroke-width="0.7"/>
<rect x="640.5" y="416.0" width="4.0" height="13.6" rx="0.8" fill="url(#disc)" stroke="#262626" stroke-width="0.7"/>
<rect x="616.6" y="429.9" width="3.7" height="12.5" rx="0.8" fill="url(#disc)" stroke="#262626" stroke-width="0.7"/>
<rect x="620.6" y="429.9" width="3.7" height="12.5" rx="0.8" fill="url(#disc)" stroke="#262626" stroke-width="0.7"/>
<rect x="628.5" y="429.9" width="4.1" height="12.7" rx="0.8" fill="url(#disc)" stroke="#262626" stroke-width="0.7"/>
<rect x="636.7" y="429.9" width="3.6" height="12.7" rx="0.8" fill="url(#disc)" stroke="#262626" stroke-width="0.7"/>
<rect x="645.0" y="429.9" width="5.6" height="12.7" rx="0.8" fill="url(#disc)" stroke="#262626" stroke-width="0.7"/>
<rect x="613.0" y="430.4" width="3.5" height="9.0" rx="0.8" fill="url(#disc)" stroke="#262626" stroke-width="0.7"/>
<clipPath id="sr1"><rect x="197.3" y="410" width="242.3" height="40"/></clipPath>
<g clip-path="url(#sr1)">
<clipPath id="sc1"><path d="M185.55 420.0Q189.50 411.7 193.45 420.0Q197.40 411.7 201.35 420.0Q205.30 411.7 209.25 420.0Q213.20 411.7 217.15 420.0Q221.10 411.7 225.05 420.0Q229.00 411.7 232.95 420.0Q236.90 411.7 240.85 420.0Q244.80 411.7 248.75 420.0Q252.70 411.7 256.65 420.0Q260.60 411.7 264.55 420.0Q268.50 411.7 272.45 420.0Q276.40 411.7 280.35 420.0Q284.30 411.7 288.25 420.0Q292.20 411.7 296.15 420.0Q300.10 411.7 304.05 420.0Q308.00 411.7 311.95 420.0Q315.90 411.7 319.85 420.0Q323.80 411.7 327.75 420.0Q331.70 411.7 335.65 420.0Q339.60 411.7 343.55 420.0Q347.50 411.7 351.45 420.0Q355.40 411.7 359.35 420.0Q363.30 411.7 367.25 420.0Q371.20 411.7 375.15 420.0Q379.10 411.7 383.05 420.0Q387.00 411.7 390.95 420.0Q394.90 411.7 398.85 420.0Q402.80 411.7 406.75 420.0Q410.70 411.7 414.65 420.0Q418.60 411.7 422.55 420.0Q426.50 411.7 430.45 420.0Q434.40 411.7 438.35 420.0Q442.30 411.7 446.25 420.0Q450.20 411.7 454.15 420.0L458.10 439.0Q454.15 446.7 450.20 439.0Q446.25 446.7 442.30 439.0Q438.35 446.7 434.40 439.0Q430.45 446.7 426.50 439.0Q422.55 446.7 418.60 439.0Q414.65 446.7 410.70 439.0Q406.75 446.7 402.80 439.0Q398.85 446.7 394.90 439.0Q390.95 446.7 387.00 439.0Q383.05 446.7 379.10 439.0Q375.15 446.7 371.20 439.0Q367.25 446.7 363.30 439.0Q359.35 446.7 355.40 439.0Q351.45 446.7 347.50 439.0Q343.55 446.7 339.60 439.0Q335.65 446.7 331.70 439.0Q327.75 446.7 323.80 439.0Q319.85 446.7 315.90 439.0Q311.95 446.7 308.00 439.0Q304.05 446.7 300.10 439.0Q296.15 446.7 292.20 439.0Q288.25 446.7 284.30 439.0Q280.35 446.7 276.40 439.0Q272.45 446.7 268.50 439.0Q264.55 446.7 260.60 439.0Q256.65 446.7 252.70 439.0Q248.75 446.7 244.80 439.0Q240.85 446.7 236.90 439.0Q232.95 446.7 229.00 439.0Q225.05 446.7 221.10 439.0Q217.15 446.7 213.20 439.0Q209.25 446.7 205.30 439.0Q201.35 446.7 197.40 439.0Q193.45 446.7 189.50 439.0Q185.55 446.7 181.60 439.0Q177.65 446.7 173.70 439.0Z"/></clipPath>
<path d="M185.55 420.0Q189.50 411.7 193.45 420.0Q197.40 411.7 201.35 420.0Q205.30 411.7 209.25 420.0Q213.20 411.7 217.15 420.0Q221.10 411.7 225.05 420.0Q229.00 411.7 232.95 420.0Q236.90 411.7 240.85 420.0Q244.80 411.7 248.75 420.0Q252.70 411.7 256.65 420.0Q260.60 411.7 264.55 420.0Q268.50 411.7 272.45 420.0Q276.40 411.7 280.35 420.0Q284.30 411.7 288.25 420.0Q292.20 411.7 296.15 420.0Q300.10 411.7 304.05 420.0Q308.00 411.7 311.95 420.0Q315.90 411.7 319.85 420.0Q323.80 411.7 327.75 420.0Q331.70 411.7 335.65 420.0Q339.60 411.7 343.55 420.0Q347.50 411.7 351.45 420.0Q355.40 411.7 359.35 420.0Q363.30 411.7 367.25 420.0Q371.20 411.7 375.15 420.0Q379.10 411.7 383.05 420.0Q387.00 411.7 390.95 420.0Q394.90 411.7 398.85 420.0Q402.80 411.7 406.75 420.0Q410.70 411.7 414.65 420.0Q418.60 411.7 422.55 420.0Q426.50 411.7 430.45 420.0Q434.40 411.7 438.35 420.0Q442.30 411.7 446.25 420.0Q450.20 411.7 454.15 420.0L458.10 439.0Q454.15 446.7 450.20 439.0Q446.25 446.7 442.30 439.0Q438.35 446.7 434.40 439.0Q430.45 446.7 426.50 439.0Q422.55 446.7 418.60 439.0Q414.65 446.7 410.70 439.0Q406.75 446.7 402.80 439.0Q398.85 446.7 394.90 439.0Q390.95 446.7 387.00 439.0Q383.05 446.7 379.10 439.0Q375.15 446.7 371.20 439.0Q367.25 446.7 363.30 439.0Q359.35 446.7 355.40 439.0Q351.45 446.7 347.50 439.0Q343.55 446.7 339.60 439.0Q335.65 446.7 331.70 439.0Q327.75 446.7 323.80 439.0Q319.85 446.7 315.90 439.0Q311.95 446.7 308.00 439.0Q304.05 446.7 300.10 439.0Q296.15 446.7 292.20 439.0Q288.25 446.7 284.30 439.0Q280.35 446.7 276.40 439.0Q272.45 446.7 268.50 439.0Q264.55 446.7 260.60 439.0Q256.65 446.7 252.70 439.0Q248.75 446.7 244.80 439.0Q240.85 446.7 236.90 439.0Q232.95 446.7 229.00 439.0Q225.05 446.7 221.10 439.0Q217.15 446.7 213.20 439.0Q209.25 446.7 205.30 439.0Q201.35 446.7 197.40 439.0Q193.45 446.7 189.50 439.0Q185.55 446.7 181.60 439.0Q177.65 446.7 173.70 439.0Z" fill="url(#sgrad)" stroke="#222" stroke-width="0.7" stroke-linejoin="round"/>
<g clip-path="url(#sc1)">
<g filter="url(#hb)"><ellipse cx="182.50" cy="423.1" rx="1.35" ry="3.8" transform="rotate(-14 182.50 423.1)" fill="#909090"/><ellipse cx="178.55" cy="435.7" rx="1.35" ry="3.7" transform="rotate(-14 178.55 435.7)" fill="#aaaaaa"/><ellipse cx="190.40" cy="423.1" rx="1.35" ry="3.8" transform="rotate(-14 190.40 423.1)" fill="#b2b2b2"/><ellipse cx="186.45" cy="435.7" rx="1.35" ry="3.7" transform="rotate(-14 186.45 435.7)" fill="#aaaaaa"/><ellipse cx="198.30" cy="423.1" rx="1.35" ry="3.8" transform="rotate(-14 198.30 423.1)" fill="#909090"/><ellipse cx="194.35" cy="435.7" rx="1.35" ry="3.7" transform="rotate(-14 194.35 435.7)" fill="#aaaaaa"/><ellipse cx="206.20" cy="423.1" rx="1.35" ry="3.8" transform="rotate(-14 206.20 423.1)" fill="#b2b2b2"/><ellipse cx="202.25" cy="435.7" rx="1.35" ry="3.7" transform="rotate(-14 202.25 435.7)" fill="#aaaaaa"/><ellipse cx="214.10" cy="423.1" rx="1.35" ry="3.8" transform="rotate(-14 214.10 423.1)" fill="#909090"/><ellipse cx="210.15" cy="435.7" rx="1.35" ry="3.7" transform="rotate(-14 210.15 435.7)" fill="#aaaaaa"/><ellipse cx="222.00" cy="423.1" rx="1.35" ry="3.8" transform="rotate(-14 222.00 423.1)" fill="#b2b2b2"/><ellipse cx="218.05" cy="435.7" rx="1.35" ry="3.7" transform="rotate(-14 218.05 435.7)" fill="#aaaaaa"/><ellipse cx="229.90" cy="423.1" rx="1.35" ry="3.8" transform="rotate(-14 229.90 423.1)" fill="#909090"/><ellipse cx="225.95" cy="435.7" rx="1.35" ry="3.7" transform="rotate(-14 225.95 435.7)" fill="#aaaaaa"/><ellipse cx="237.80" cy="423.1" rx="1.35" ry="3.8" transform="rotate(-14 237.80 423.1)" fill="#b2b2b2"/><ellipse cx="233.85" cy="435.7" rx="1.35" ry="3.7" transform="rotate(-14 233.85 435.7)" fill="#aaaaaa"/><ellipse cx="245.70" cy="423.1" rx="1.35" ry="3.8" transform="rotate(-14 245.70 423.1)" fill="#909090"/><ellipse cx="241.75" cy="435.7" rx="1.35" ry="3.7" transform="rotate(-14 241.75 435.7)" fill="#aaaaaa"/><ellipse cx="253.60" cy="423.1" rx="1.35" ry="3.8" transform="rotate(-14 253.60 423.1)" fill="#b2b2b2"/><ellipse cx="249.65" cy="435.7" rx="1.35" ry="3.7" transform="rotate(-14 249.65 435.7)" fill="#aaaaaa"/><ellipse cx="261.50" cy="423.1" rx="1.35" ry="3.8" transform="rotate(-14 261.50 423.1)" fill="#909090"/><ellipse cx="257.55" cy="435.7" rx="1.35" ry="3.7" transform="rotate(-14 257.55 435.7)" fill="#aaaaaa"/><ellipse cx="269.40" cy="423.1" rx="1.35" ry="3.8" transform="rotate(-14 269.40 423.1)" fill="#b2b2b2"/><ellipse cx="265.45" cy="435.7" rx="1.35" ry="3.7" transform="rotate(-14 265.45 435.7)" fill="#aaaaaa"/><ellipse cx="277.30" cy="423.1" rx="1.35" ry="3.8" transform="rotate(-14 277.30 423.1)" fill="#909090"/><ellipse cx="273.35" cy="435.7" rx="1.35" ry="3.7" transform="rotate(-14 273.35 435.7)" fill="#aaaaaa"/><ellipse cx="285.20" cy="423.1" rx="1.35" ry="3.8" transform="rotate(-14 285.20 423.1)" fill="#b2b2b2"/><ellipse cx="281.25" cy="435.7" rx="1.35" ry="3.7" transform="rotate(-14 281.25 435.7)" fill="#aaaaaa"/><ellipse cx="293.10" cy="423.1" rx="1.35" ry="3.8" transform="rotate(-14 293.10 423.1)" fill="#909090"/><ellipse cx="289.15" cy="435.7" rx="1.35" ry="3.7" transform="rotate(-14 289.15 435.7)" fill="#aaaaaa"/><ellipse cx="301.00" cy="423.1" rx="1.35" ry="3.8" transform="rotate(-14 301.00 423.1)" fill="#b2b2b2"/><ellipse cx="297.05" cy="435.7" rx="1.35" ry="3.7" transform="rotate(-14 297.05 435.7)" fill="#aaaaaa"/><ellipse cx="308.90" cy="423.1" rx="1.35" ry="3.8" transform="rotate(-14 308.90 423.1)" fill="#909090"/><ellipse cx="304.95" cy="435.7" rx="1.35" ry="3.7" transform="rotate(-14 304.95 435.7)" fill="#aaaaaa"/><ellipse cx="316.80" cy="423.1" rx="1.35" ry="3.8" transform="rotate(-14 316.80 423.1)" fill="#b2b2b2"/><ellipse cx="312.85" cy="435.7" rx="1.35" ry="3.7" transform="rotate(-14 312.85 435.7)" fill="#aaaaaa"/><ellipse cx="324.70" cy="423.1" rx="1.35" ry="3.8" transform="rotate(-14 324.70 423.1)" fill="#909090"/><ellipse cx="320.75" cy="435.7" rx="1.35" ry="3.7" transform="rotate(-14 320.75 435.7)" fill="#aaaaaa"/><ellipse cx="332.60" cy="423.1" rx="1.35" ry="3.8" transform="rotate(-14 332.60 423.1)" fill="#b2b2b2"/><ellipse cx="328.65" cy="435.7" rx="1.35" ry="3.7" transform="rotate(-14 328.65 435.7)" fill="#aaaaaa"/><ellipse cx="340.50" cy="423.1" rx="1.35" ry="3.8" transform="rotate(-14 340.50 423.1)" fill="#909090"/><ellipse cx="336.55" cy="435.7" rx="1.35" ry="3.7" transform="rotate(-14 336.55 435.7)" fill="#aaaaaa"/><ellipse cx="348.40" cy="423.1" rx="1.35" ry="3.8" transform="rotate(-14 348.40 423.1)" fill="#b2b2b2"/><ellipse cx="344.45" cy="435.7" rx="1.35" ry="3.7" transform="rotate(-14 344.45 435.7)" fill="#aaaaaa"/><ellipse cx="356.30" cy="423.1" rx="1.35" ry="3.8" transform="rotate(-14 356.30 423.1)" fill="#909090"/><ellipse cx="352.35" cy="435.7" rx="1.35" ry="3.7" transform="rotate(-14 352.35 435.7)" fill="#aaaaaa"/><ellipse cx="364.20" cy="423.1" rx="1.35" ry="3.8" transform="rotate(-14 364.20 423.1)" fill="#b2b2b2"/><ellipse cx="360.25" cy="435.7" rx="1.35" ry="3.7" transform="rotate(-14 360.25 435.7)" fill="#aaaaaa"/><ellipse cx="372.10" cy="423.1" rx="1.35" ry="3.8" transform="rotate(-14 372.10 423.1)" fill="#909090"/><ellipse cx="368.15" cy="435.7" rx="1.35" ry="3.7" transform="rotate(-14 368.15 435.7)" fill="#aaaaaa"/><ellipse cx="380.00" cy="423.1" rx="1.35" ry="3.8" transform="rotate(-14 380.00 423.1)" fill="#b2b2b2"/><ellipse cx="376.05" cy="435.7" rx="1.35" ry="3.7" transform="rotate(-14 376.05 435.7)" fill="#aaaaaa"/><ellipse cx="387.90" cy="423.1" rx="1.35" ry="3.8" transform="rotate(-14 387.90 423.1)" fill="#909090"/><ellipse cx="383.95" cy="435.7" rx="1.35" ry="3.7" transform="rotate(-14 383.95 435.7)" fill="#aaaaaa"/><ellipse cx="395.80" cy="423.1" rx="1.35" ry="3.8" transform="rotate(-14 395.80 423.1)" fill="#b2b2b2"/><ellipse cx="391.85" cy="435.7" rx="1.35" ry="3.7" transform="rotate(-14 391.85 435.7)" fill="#aaaaaa"/><ellipse cx="403.70" cy="423.1" rx="1.35" ry="3.8" transform="rotate(-14 403.70 423.1)" fill="#909090"/><ellipse cx="399.75" cy="435.7" rx="1.35" ry="3.7" transform="rotate(-14 399.75 435.7)" fill="#aaaaaa"/><ellipse cx="411.60" cy="423.1" rx="1.35" ry="3.8" transform="rotate(-14 411.60 423.1)" fill="#b2b2b2"/><ellipse cx="407.65" cy="435.7" rx="1.35" ry="3.7" transform="rotate(-14 407.65 435.7)" fill="#aaaaaa"/><ellipse cx="419.50" cy="423.1" rx="1.35" ry="3.8" transform="rotate(-14 419.50 423.1)" fill="#909090"/><ellipse cx="415.55" cy="435.7" rx="1.35" ry="3.7" transform="rotate(-14 415.55 435.7)" fill="#aaaaaa"/><ellipse cx="427.40" cy="423.1" rx="1.35" ry="3.8" transform="rotate(-14 427.40 423.1)" fill="#b2b2b2"/><ellipse cx="423.45" cy="435.7" rx="1.35" ry="3.7" transform="rotate(-14 423.45 435.7)" fill="#aaaaaa"/><ellipse cx="435.30" cy="423.1" rx="1.35" ry="3.8" transform="rotate(-14 435.30 423.1)" fill="#909090"/><ellipse cx="431.35" cy="435.7" rx="1.35" ry="3.7" transform="rotate(-14 431.35 435.7)" fill="#aaaaaa"/><ellipse cx="443.20" cy="423.1" rx="1.35" ry="3.8" transform="rotate(-14 443.20 423.1)" fill="#b2b2b2"/><ellipse cx="439.25" cy="435.7" rx="1.35" ry="3.7" transform="rotate(-14 439.25 435.7)" fill="#aaaaaa"/><ellipse cx="451.10" cy="423.1" rx="1.35" ry="3.8" transform="rotate(-14 451.10 423.1)" fill="#909090"/><ellipse cx="447.15" cy="435.7" rx="1.35" ry="3.7" transform="rotate(-14 447.15 435.7)" fill="#aaaaaa"/></g>
<path d="M185.25 417.80L189.25 430.00L186.85 429.30M179.00 429.20L181.80 441.20M193.15 417.80L197.15 430.00L194.75 429.30M186.90 429.20L189.70 441.20M201.05 417.80L205.05 430.00L202.65 429.30M194.80 429.20L197.60 441.20M208.95 417.80L212.95 430.00L210.55 429.30M202.70 429.20L205.50 441.20M216.85 417.80L220.85 430.00L218.45 429.30M210.60 429.20L213.40 441.20M224.75 417.80L228.75 430.00L226.35 429.30M218.50 429.20L221.30 441.20M232.65 417.80L236.65 430.00L234.25 429.30M226.40 429.20L229.20 441.20M240.55 417.80L244.55 430.00L242.15 429.30M234.30 429.20L237.10 441.20M248.45 417.80L252.45 430.00L250.05 429.30M242.20 429.20L245.00 441.20M256.35 417.80L260.35 430.00L257.95 429.30M250.10 429.20L252.90 441.20M264.25 417.80L268.25 430.00L265.85 429.30M258.00 429.20L260.80 441.20M272.15 417.80L276.15 430.00L273.75 429.30M265.90 429.20L268.70 441.20M280.05 417.80L284.05 430.00L281.65 429.30M273.80 429.20L276.60 441.20M287.95 417.80L291.95 430.00L289.55 429.30M281.70 429.20L284.50 441.20M295.85 417.80L299.85 430.00L297.45 429.30M289.60 429.20L292.40 441.20M303.75 417.80L307.75 430.00L305.35 429.30M297.50 429.20L300.30 441.20M311.65 417.80L315.65 430.00L313.25 429.30M305.40 429.20L308.20 441.20M319.55 417.80L323.55 430.00L321.15 429.30M313.30 429.20L316.10 441.20M327.45 417.80L331.45 430.00L329.05 429.30M321.20 429.20L324.00 441.20M335.35 417.80L339.35 430.00L336.95 429.30M329.10 429.20L331.90 441.20M343.25 417.80L347.25 430.00L344.85 429.30M337.00 429.20L339.80 441.20M351.15 417.80L355.15 430.00L352.75 429.30M344.90 429.20L347.70 441.20M359.05 417.80L363.05 430.00L360.65 429.30M352.80 429.20L355.60 441.20M366.95 417.80L370.95 430.00L368.55 429.30M360.70 429.20L363.50 441.20M374.85 417.80L378.85 430.00L376.45 429.30M368.60 429.20L371.40 441.20M382.75 417.80L386.75 430.00L384.35 429.30M376.50 429.20L379.30 441.20M390.65 417.80L394.65 430.00L392.25 429.30M384.40 429.20L387.20 441.20M398.55 417.80L402.55 430.00L400.15 429.30M392.30 429.20L395.10 441.20M406.45 417.80L410.45 430.00L408.05 429.30M400.20 429.20L403.00 441.20M414.35 417.80L418.35 430.00L415.95 429.30M408.10 429.20L410.90 441.20M422.25 417.80L426.25 430.00L423.85 429.30M416.00 429.20L418.80 441.20M430.15 417.80L434.15 430.00L431.75 429.30M423.90 429.20L426.70 441.20M438.05 417.80L442.05 430.00L439.65 429.30M431.80 429.20L434.60 441.20M445.95 417.80L449.95 430.00L447.55 429.30M439.70 429.20L442.50 441.20M453.85 417.80L457.85 430.00L455.45 429.30M447.60 429.20L450.40 441.20" stroke="#111" stroke-width="1.3" fill="none" stroke-linecap="round"/>
</g></g>
<clipPath id="sr2"><rect x="483.8" y="410" width="129.4" height="40"/></clipPath>
<g clip-path="url(#sr2)">
<clipPath id="sc2"><path d="M478.15 420.0Q482.09 411.7 486.02 420.0Q489.96 411.7 493.89 420.0Q497.83 411.7 501.76 420.0Q505.70 411.7 509.63 420.0Q513.57 411.7 517.50 420.0Q521.44 411.7 525.38 420.0Q529.31 411.7 533.25 420.0Q537.18 411.7 541.12 420.0Q545.05 411.7 548.99 420.0Q552.92 411.7 556.86 420.0Q560.79 411.7 564.73 420.0Q568.66 411.7 572.60 420.0Q576.53 411.7 580.46 420.0Q584.40 411.7 588.34 420.0Q592.27 411.7 596.20 420.0Q600.14 411.7 604.07 420.0Q608.01 411.7 611.94 420.0Q615.88 411.7 619.81 420.0Q623.75 411.7 627.68 420.0L631.62 439.0Q627.69 446.7 623.75 439.0Q619.82 446.7 615.88 439.0Q611.95 446.7 608.01 439.0Q604.08 446.7 600.14 439.0Q596.21 446.7 592.27 439.0Q588.34 446.7 584.40 439.0Q580.47 446.7 576.53 439.0Q572.60 446.7 568.66 439.0Q564.73 446.7 560.79 439.0Q556.86 446.7 552.92 439.0Q548.99 446.7 545.05 439.0Q541.12 446.7 537.18 439.0Q533.25 446.7 529.31 439.0Q525.38 446.7 521.44 439.0Q517.50 446.7 513.57 439.0Q509.63 446.7 505.70 439.0Q501.76 446.7 497.83 439.0Q493.89 446.7 489.96 439.0Q486.02 446.7 482.09 439.0Q478.15 446.7 474.22 439.0Q470.28 446.7 466.35 439.0Z"/></clipPath>
<path d="M478.15 420.0Q482.09 411.7 486.02 420.0Q489.96 411.7 493.89 420.0Q497.83 411.7 501.76 420.0Q505.70 411.7 509.63 420.0Q513.57 411.7 517.50 420.0Q521.44 411.7 525.38 420.0Q529.31 411.7 533.25 420.0Q537.18 411.7 541.12 420.0Q545.05 411.7 548.99 420.0Q552.92 411.7 556.86 420.0Q560.79 411.7 564.73 420.0Q568.66 411.7 572.60 420.0Q576.53 411.7 580.46 420.0Q584.40 411.7 588.34 420.0Q592.27 411.7 596.20 420.0Q600.14 411.7 604.07 420.0Q608.01 411.7 611.94 420.0Q615.88 411.7 619.81 420.0Q623.75 411.7 627.68 420.0L631.62 439.0Q627.69 446.7 623.75 439.0Q619.82 446.7 615.88 439.0Q611.95 446.7 608.01 439.0Q604.08 446.7 600.14 439.0Q596.21 446.7 592.27 439.0Q588.34 446.7 584.40 439.0Q580.47 446.7 576.53 439.0Q572.60 446.7 568.66 439.0Q564.73 446.7 560.79 439.0Q556.86 446.7 552.92 439.0Q548.99 446.7 545.05 439.0Q541.12 446.7 537.18 439.0Q533.25 446.7 529.31 439.0Q525.38 446.7 521.44 439.0Q517.50 446.7 513.57 439.0Q509.63 446.7 505.70 439.0Q501.76 446.7 497.83 439.0Q493.89 446.7 489.96 439.0Q486.02 446.7 482.09 439.0Q478.15 446.7 474.22 439.0Q470.28 446.7 466.35 439.0Z" fill="url(#sgrad)" stroke="#222" stroke-width="0.7" stroke-linejoin="round"/>
<g clip-path="url(#sc2)">
<g filter="url(#hb)"><ellipse cx="475.12" cy="423.1" rx="1.35" ry="3.8" transform="rotate(-14 475.12 423.1)" fill="#b2b2b2"/><ellipse cx="471.18" cy="435.7" rx="1.35" ry="3.7" transform="rotate(-14 471.18 435.7)" fill="#aaaaaa"/><ellipse cx="482.99" cy="423.1" rx="1.35" ry="3.8" transform="rotate(-14 482.99 423.1)" fill="#909090"/><ellipse cx="479.05" cy="435.7" rx="1.35" ry="3.7" transform="rotate(-14 479.05 435.7)" fill="#aaaaaa"/><ellipse cx="490.86" cy="423.1" rx="1.35" ry="3.8" transform="rotate(-14 490.86 423.1)" fill="#b2b2b2"/><ellipse cx="486.92" cy="435.7" rx="1.35" ry="3.7" transform="rotate(-14 486.92 435.7)" fill="#aaaaaa"/><ellipse cx="498.73" cy="423.1" rx="1.35" ry="3.8" transform="rotate(-14 498.73 423.1)" fill="#909090"/><ellipse cx="494.79" cy="435.7" rx="1.35" ry="3.7" transform="rotate(-14 494.79 435.7)" fill="#aaaaaa"/><ellipse cx="506.60" cy="423.1" rx="1.35" ry="3.8" transform="rotate(-14 506.60 423.1)" fill="#b2b2b2"/><ellipse cx="502.66" cy="435.7" rx="1.35" ry="3.7" transform="rotate(-14 502.66 435.7)" fill="#aaaaaa"/><ellipse cx="514.47" cy="423.1" rx="1.35" ry="3.8" transform="rotate(-14 514.47 423.1)" fill="#909090"/><ellipse cx="510.53" cy="435.7" rx="1.35" ry="3.7" transform="rotate(-14 510.53 435.7)" fill="#aaaaaa"/><ellipse cx="522.34" cy="423.1" rx="1.35" ry="3.8" transform="rotate(-14 522.34 423.1)" fill="#b2b2b2"/><ellipse cx="518.40" cy="435.7" rx="1.35" ry="3.7" transform="rotate(-14 518.40 435.7)" fill="#aaaaaa"/><ellipse cx="530.21" cy="423.1" rx="1.35" ry="3.8" transform="rotate(-14 530.21 423.1)" fill="#909090"/><ellipse cx="526.27" cy="435.7" rx="1.35" ry="3.7" transform="rotate(-14 526.27 435.7)" fill="#aaaaaa"/><ellipse cx="538.08" cy="423.1" rx="1.35" ry="3.8" transform="rotate(-14 538.08 423.1)" fill="#b2b2b2"/><ellipse cx="534.14" cy="435.7" rx="1.35" ry="3.7" transform="rotate(-14 534.14 435.7)" fill="#aaaaaa"/><ellipse cx="545.95" cy="423.1" rx="1.35" ry="3.8" transform="rotate(-14 545.95 423.1)" fill="#909090"/><ellipse cx="542.01" cy="435.7" rx="1.35" ry="3.7" transform="rotate(-14 542.01 435.7)" fill="#aaaaaa"/><ellipse cx="553.82" cy="423.1" rx="1.35" ry="3.8" transform="rotate(-14 553.82 423.1)" fill="#b2b2b2"/><ellipse cx="549.88" cy="435.7" rx="1.35" ry="3.7" transform="rotate(-14 549.88 435.7)" fill="#aaaaaa"/><ellipse cx="561.69" cy="423.1" rx="1.35" ry="3.8" transform="rotate(-14 561.69 423.1)" fill="#909090"/><ellipse cx="557.75" cy="435.7" rx="1.35" ry="3.7" transform="rotate(-14 557.75 435.7)" fill="#aaaaaa"/><ellipse cx="569.56" cy="423.1" rx="1.35" ry="3.8" transform="rotate(-14 569.56 423.1)" fill="#b2b2b2"/><ellipse cx="565.62" cy="435.7" rx="1.35" ry="3.7" transform="rotate(-14 565.62 435.7)" fill="#aaaaaa"/><ellipse cx="577.43" cy="423.1" rx="1.35" ry="3.8" transform="rotate(-14 577.43 423.1)" fill="#909090"/><ellipse cx="573.50" cy="435.7" rx="1.35" ry="3.7" transform="rotate(-14 573.50 435.7)" fill="#aaaaaa"/><ellipse cx="585.30" cy="423.1" rx="1.35" ry="3.8" transform="rotate(-14 585.30 423.1)" fill="#b2b2b2"/><ellipse cx="581.37" cy="435.7" rx="1.35" ry="3.7" transform="rotate(-14 581.37 435.7)" fill="#aaaaaa"/><ellipse cx="593.17" cy="423.1" rx="1.35" ry="3.8" transform="rotate(-14 593.17 423.1)" fill="#909090"/><ellipse cx="589.24" cy="435.7" rx="1.35" ry="3.7" transform="rotate(-14 589.24 435.7)" fill="#aaaaaa"/><ellipse cx="601.04" cy="423.1" rx="1.35" ry="3.8" transform="rotate(-14 601.04 423.1)" fill="#b2b2b2"/><ellipse cx="597.11" cy="435.7" rx="1.35" ry="3.7" transform="rotate(-14 597.11 435.7)" fill="#aaaaaa"/><ellipse cx="608.91" cy="423.1" rx="1.35" ry="3.8" transform="rotate(-14 608.91 423.1)" fill="#909090"/><ellipse cx="604.98" cy="435.7" rx="1.35" ry="3.7" transform="rotate(-14 604.98 435.7)" fill="#aaaaaa"/><ellipse cx="616.78" cy="423.1" rx="1.35" ry="3.8" transform="rotate(-14 616.78 423.1)" fill="#b2b2b2"/><ellipse cx="612.85" cy="435.7" rx="1.35" ry="3.7" transform="rotate(-14 612.85 435.7)" fill="#aaaaaa"/><ellipse cx="624.65" cy="423.1" rx="1.35" ry="3.8" transform="rotate(-14 624.65 423.1)" fill="#909090"/><ellipse cx="620.72" cy="435.7" rx="1.35" ry="3.7" transform="rotate(-14 620.72 435.7)" fill="#aaaaaa"/></g>
<path d="M477.85 417.80L481.85 430.00L479.45 429.30M471.62 429.20L474.42 441.20M485.72 417.80L489.72 430.00L487.32 429.30M479.49 429.20L482.29 441.20M493.59 417.80L497.59 430.00L495.19 429.30M487.36 429.20L490.16 441.20M501.46 417.80L505.46 430.00L503.06 429.30M495.23 429.20L498.03 441.20M509.33 417.80L513.34 430.00L510.94 429.30M503.10 429.20L505.90 441.20M517.20 417.80L521.20 430.00L518.80 429.30M510.97 429.20L513.77 441.20M525.07 417.80L529.07 430.00L526.67 429.30M518.84 429.20L521.64 441.20M532.94 417.80L536.94 430.00L534.54 429.30M526.71 429.20L529.51 441.20M540.81 417.80L544.81 430.00L542.41 429.30M534.58 429.20L537.38 441.20M548.68 417.80L552.68 430.00L550.28 429.30M542.45 429.20L545.25 441.20M556.55 417.80L560.55 430.00L558.15 429.30M550.32 429.20L553.12 441.20M564.42 417.80L568.42 430.00L566.02 429.30M558.19 429.20L560.99 441.20M572.29 417.80L576.29 430.00L573.89 429.30M566.06 429.20L568.86 441.20M580.16 417.80L584.16 430.00L581.76 429.30M573.93 429.20L576.73 441.20M588.03 417.80L592.03 430.00L589.63 429.30M581.80 429.20L584.60 441.20M595.90 417.80L599.90 430.00L597.50 429.30M589.67 429.20L592.47 441.20M603.77 417.80L607.77 430.00L605.37 429.30M597.54 429.20L600.34 441.20M611.64 417.80L615.64 430.00L613.24 429.30M605.41 429.20L608.21 441.20M619.51 417.80L623.51 430.00L621.11 429.30M613.28 429.20L616.08 441.20M627.38 417.80L631.38 430.00L628.98 429.30M621.15 429.20L623.95 441.20" stroke="#111" stroke-width="1.3" fill="none" stroke-linecap="round"/>
</g></g>
<clipPath id="sr3"><rect x="649.9" y="410" width="158.7" height="40"/></clipPath>
<g clip-path="url(#sr3)">
<clipPath id="sc3"><path d="M641.29 420.0Q645.26 411.7 649.23 420.0Q653.20 411.7 657.17 420.0Q661.14 411.7 665.11 420.0Q669.08 411.7 673.05 420.0Q677.02 411.7 680.99 420.0Q684.96 411.7 688.93 420.0Q692.90 411.7 696.87 420.0Q700.84 411.7 704.81 420.0Q708.78 411.7 712.75 420.0Q716.72 411.7 720.69 420.0Q724.66 411.7 728.63 420.0Q732.60 411.7 736.57 420.0Q740.54 411.7 744.51 420.0Q748.48 411.7 752.45 420.0Q756.42 411.7 760.39 420.0Q764.36 411.7 768.33 420.0Q772.30 411.7 776.27 420.0Q780.24 411.7 784.21 420.0Q788.18 411.7 792.15 420.0Q796.12 411.7 800.09 420.0Q804.06 411.7 808.03 420.0Q812.00 411.7 815.97 420.0Q819.94 411.7 823.91 420.0L827.88 439.0Q823.91 446.7 819.94 439.0Q815.97 446.7 812.00 439.0Q808.03 446.7 804.06 439.0Q800.09 446.7 796.12 439.0Q792.15 446.7 788.18 439.0Q784.21 446.7 780.24 439.0Q776.27 446.7 772.30 439.0Q768.33 446.7 764.36 439.0Q760.39 446.7 756.42 439.0Q752.45 446.7 748.48 439.0Q744.51 446.7 740.54 439.0Q736.57 446.7 732.60 439.0Q728.63 446.7 724.66 439.0Q720.69 446.7 716.72 439.0Q712.75 446.7 708.78 439.0Q704.81 446.7 700.84 439.0Q696.87 446.7 692.90 439.0Q688.93 446.7 684.96 439.0Q680.99 446.7 677.02 439.0Q673.05 446.7 669.08 439.0Q665.11 446.7 661.14 439.0Q657.17 446.7 653.20 439.0Q649.23 446.7 645.26 439.0Q641.29 446.7 637.32 439.0Q633.35 446.7 629.38 439.0Z"/></clipPath>
<path d="M641.29 420.0Q645.26 411.7 649.23 420.0Q653.20 411.7 657.17 420.0Q661.14 411.7 665.11 420.0Q669.08 411.7 673.05 420.0Q677.02 411.7 680.99 420.0Q684.96 411.7 688.93 420.0Q692.90 411.7 696.87 420.0Q700.84 411.7 704.81 420.0Q708.78 411.7 712.75 420.0Q716.72 411.7 720.69 420.0Q724.66 411.7 728.63 420.0Q732.60 411.7 736.57 420.0Q740.54 411.7 744.51 420.0Q748.48 411.7 752.45 420.0Q756.42 411.7 760.39 420.0Q764.36 411.7 768.33 420.0Q772.30 411.7 776.27 420.0Q780.24 411.7 784.21 420.0Q788.18 411.7 792.15 420.0Q796.12 411.7 800.09 420.0Q804.06 411.7 808.03 420.0Q812.00 411.7 815.97 420.0Q819.94 411.7 823.91 420.0L827.88 439.0Q823.91 446.7 819.94 439.0Q815.97 446.7 812.00 439.0Q808.03 446.7 804.06 439.0Q800.09 446.7 796.12 439.0Q792.15 446.7 788.18 439.0Q784.21 446.7 780.24 439.0Q776.27 446.7 772.30 439.0Q768.33 446.7 764.36 439.0Q760.39 446.7 756.42 439.0Q752.45 446.7 748.48 439.0Q744.51 446.7 740.54 439.0Q736.57 446.7 732.60 439.0Q728.63 446.7 724.66 439.0Q720.69 446.7 716.72 439.0Q712.75 446.7 708.78 439.0Q704.81 446.7 700.84 439.0Q696.87 446.7 692.90 439.0Q688.93 446.7 684.96 439.0Q680.99 446.7 677.02 439.0Q673.05 446.7 669.08 439.0Q665.11 446.7 661.14 439.0Q657.17 446.7 653.20 439.0Q649.23 446.7 645.26 439.0Q641.29 446.7 637.32 439.0Q633.35 446.7 629.38 439.0Z" fill="url(#sgrad)" stroke="#222" stroke-width="0.7" stroke-linejoin="round"/>
<g clip-path="url(#sc3)">
<g filter="url(#hb)"><ellipse cx="638.22" cy="423.1" rx="1.35" ry="3.8" transform="rotate(-14 638.22 423.1)" fill="#b2b2b2"/><ellipse cx="634.25" cy="435.7" rx="1.35" ry="3.7" transform="rotate(-14 634.25 435.7)" fill="#aaaaaa"/><ellipse cx="646.16" cy="423.1" rx="1.35" ry="3.8" transform="rotate(-14 646.16 423.1)" fill="#909090"/><ellipse cx="642.19" cy="435.7" rx="1.35" ry="3.7" transform="rotate(-14 642.19 435.7)" fill="#aaaaaa"/><ellipse cx="654.10" cy="423.1" rx="1.35" ry="3.8" transform="rotate(-14 654.10 423.1)" fill="#b2b2b2"/><ellipse cx="650.13" cy="435.7" rx="1.35" ry="3.7" transform="rotate(-14 650.13 435.7)" fill="#aaaaaa"/><ellipse cx="662.04" cy="423.1" rx="1.35" ry="3.8" transform="rotate(-14 662.04 423.1)" fill="#909090"/><ellipse cx="658.07" cy="435.7" rx="1.35" ry="3.7" transform="rotate(-14 658.07 435.7)" fill="#aaaaaa"/><ellipse cx="669.98" cy="423.1" rx="1.35" ry="3.8" transform="rotate(-14 669.98 423.1)" fill="#b2b2b2"/><ellipse cx="666.01" cy="435.7" rx="1.35" ry="3.7" transform="rotate(-14 666.01 435.7)" fill="#aaaaaa"/><ellipse cx="677.92" cy="423.1" rx="1.35" ry="3.8" transform="rotate(-14 677.92 423.1)" fill="#909090"/><ellipse cx="673.95" cy="435.7" rx="1.35" ry="3.7" transform="rotate(-14 673.95 435.7)" fill="#aaaaaa"/><ellipse cx="685.86" cy="423.1" rx="1.35" ry="3.8" transform="rotate(-14 685.86 423.1)" fill="#b2b2b2"/><ellipse cx="681.89" cy="435.7" rx="1.35" ry="3.7" transform="rotate(-14 681.89 435.7)" fill="#aaaaaa"/><ellipse cx="693.80" cy="423.1" rx="1.35" ry="3.8" transform="rotate(-14 693.80 423.1)" fill="#909090"/><ellipse cx="689.83" cy="435.7" rx="1.35" ry="3.7" transform="rotate(-14 689.83 435.7)" fill="#aaaaaa"/><ellipse cx="701.74" cy="423.1" rx="1.35" ry="3.8" transform="rotate(-14 701.74 423.1)" fill="#b2b2b2"/><ellipse cx="697.77" cy="435.7" rx="1.35" ry="3.7" transform="rotate(-14 697.77 435.7)" fill="#aaaaaa"/><ellipse cx="709.68" cy="423.1" rx="1.35" ry="3.8" transform="rotate(-14 709.68 423.1)" fill="#909090"/><ellipse cx="705.71" cy="435.7" rx="1.35" ry="3.7" transform="rotate(-14 705.71 435.7)" fill="#aaaaaa"/><ellipse cx="717.62" cy="423.1" rx="1.35" ry="3.8" transform="rotate(-14 717.62 423.1)" fill="#b2b2b2"/><ellipse cx="713.65" cy="435.7" rx="1.35" ry="3.7" transform="rotate(-14 713.65 435.7)" fill="#aaaaaa"/><ellipse cx="725.56" cy="423.1" rx="1.35" ry="3.8" transform="rotate(-14 725.56 423.1)" fill="#909090"/><ellipse cx="721.59" cy="435.7" rx="1.35" ry="3.7" transform="rotate(-14 721.59 435.7)" fill="#aaaaaa"/><ellipse cx="733.50" cy="423.1" rx="1.35" ry="3.8" transform="rotate(-14 733.50 423.1)" fill="#b2b2b2"/><ellipse cx="729.53" cy="435.7" rx="1.35" ry="3.7" transform="rotate(-14 729.53 435.7)" fill="#aaaaaa"/><ellipse cx="741.44" cy="423.1" rx="1.35" ry="3.8" transform="rotate(-14 741.44 423.1)" fill="#909090"/><ellipse cx="737.47" cy="435.7" rx="1.35" ry="3.7" transform="rotate(-14 737.47 435.7)" fill="#aaaaaa"/><ellipse cx="749.38" cy="423.1" rx="1.35" ry="3.8" transform="rotate(-14 749.38 423.1)" fill="#b2b2b2"/><ellipse cx="745.41" cy="435.7" rx="1.35" ry="3.7" transform="rotate(-14 745.41 435.7)" fill="#aaaaaa"/><ellipse cx="757.32" cy="423.1" rx="1.35" ry="3.8" transform="rotate(-14 757.32 423.1)" fill="#909090"/><ellipse cx="753.35" cy="435.7" rx="1.35" ry="3.7" transform="rotate(-14 753.35 435.7)" fill="#aaaaaa"/><ellipse cx="765.26" cy="423.1" rx="1.35" ry="3.8" transform="rotate(-14 765.26 423.1)" fill="#b2b2b2"/><ellipse cx="761.29" cy="435.7" rx="1.35" ry="3.7" transform="rotate(-14 761.29 435.7)" fill="#aaaaaa"/><ellipse cx="773.20" cy="423.1" rx="1.35" ry="3.8" transform="rotate(-14 773.20 423.1)" fill="#909090"/><ellipse cx="769.23" cy="435.7" rx="1.35" ry="3.7" transform="rotate(-14 769.23 435.7)" fill="#aaaaaa"/><ellipse cx="781.14" cy="423.1" rx="1.35" ry="3.8" transform="rotate(-14 781.14 423.1)" fill="#b2b2b2"/><ellipse cx="777.17" cy="435.7" rx="1.35" ry="3.7" transform="rotate(-14 777.17 435.7)" fill="#aaaaaa"/><ellipse cx="789.08" cy="423.1" rx="1.35" ry="3.8" transform="rotate(-14 789.08 423.1)" fill="#909090"/><ellipse cx="785.11" cy="435.7" rx="1.35" ry="3.7" transform="rotate(-14 785.11 435.7)" fill="#aaaaaa"/><ellipse cx="797.02" cy="423.1" rx="1.35" ry="3.8" transform="rotate(-14 797.02 423.1)" fill="#b2b2b2"/><ellipse cx="793.05" cy="435.7" rx="1.35" ry="3.7" transform="rotate(-14 793.05 435.7)" fill="#aaaaaa"/><ellipse cx="804.96" cy="423.1" rx="1.35" ry="3.8" transform="rotate(-14 804.96 423.1)" fill="#909090"/><ellipse cx="800.99" cy="435.7" rx="1.35" ry="3.7" transform="rotate(-14 800.99 435.7)" fill="#aaaaaa"/><ellipse cx="812.90" cy="423.1" rx="1.35" ry="3.8" transform="rotate(-14 812.90 423.1)" fill="#b2b2b2"/><ellipse cx="808.93" cy="435.7" rx="1.35" ry="3.7" transform="rotate(-14 808.93 435.7)" fill="#aaaaaa"/><ellipse cx="820.84" cy="423.1" rx="1.35" ry="3.8" transform="rotate(-14 820.84 423.1)" fill="#909090"/><ellipse cx="816.87" cy="435.7" rx="1.35" ry="3.7" transform="rotate(-14 816.87 435.7)" fill="#aaaaaa"/></g>
<path d="M640.99 417.80L644.99 430.00L642.59 429.30M634.72 429.20L637.52 441.20M648.93 417.80L652.93 430.00L650.53 429.30M642.66 429.20L645.46 441.20M656.87 417.80L660.87 430.00L658.47 429.30M650.60 429.20L653.40 441.20M664.81 417.80L668.81 430.00L666.41 429.30M658.54 429.20L661.34 441.20M672.75 417.80L676.75 430.00L674.35 429.30M666.48 429.20L669.28 441.20M680.69 417.80L684.69 430.00L682.29 429.30M674.42 429.20L677.22 441.20M688.63 417.80L692.63 430.00L690.23 429.30M682.36 429.20L685.16 441.20M696.57 417.80L700.57 430.00L698.17 429.30M690.30 429.20L693.10 441.20M704.51 417.80L708.51 430.00L706.11 429.30M698.24 429.20L701.04 441.20M712.45 417.80L716.45 430.00L714.05 429.30M706.18 429.20L708.98 441.20M720.39 417.80L724.39 430.00L721.99 429.30M714.12 429.20L716.92 441.20M728.33 417.80L732.33 430.00L729.93 429.30M722.06 429.20L724.86 441.20M736.27 417.80L740.27 430.00L737.87 429.30M730.00 429.20L732.80 441.20M744.21 417.80L748.21 430.00L745.81 429.30M737.94 429.20L740.74 441.20M752.15 417.80L756.15 430.00L753.75 429.30M745.88 429.20L748.68 441.20M760.09 417.80L764.09 430.00L761.69 429.30M753.82 429.20L756.62 441.20M768.03 417.80L772.03 430.00L769.63 429.30M761.76 429.20L764.56 441.20M775.97 417.80L779.97 430.00L777.57 429.30M769.70 429.20L772.50 441.20M783.91 417.80L787.91 430.00L785.51 429.30M777.64 429.20L780.44 441.20M791.85 417.80L795.85 430.00L793.45 429.30M785.58 429.20L788.38 441.20M799.79 417.80L803.79 430.00L801.39 429.30M793.52 429.20L796.32 441.20M807.73 417.80L811.73 430.00L809.33 429.30M801.46 429.20L804.26 441.20M815.67 417.80L819.67 430.00L817.27 429.30M809.40 429.20L812.20 441.20M823.61 417.80L827.61 430.00L825.21 429.30M817.34 429.20L820.14 441.20" stroke="#111" stroke-width="1.3" fill="none" stroke-linecap="round"/>
</g></g>
<g><clipPath id="oc"><rect x="807.5" y="412" width="22.9" height="34"/></clipPath><g clip-path="url(#oc)">
<rect x="807" y="419.0" width="24" height="20.6" fill="url(#sgrad)"/>
<path d="M807 429.6H831" stroke="#222" stroke-width="1.1"/>
<ellipse cx="805.35" cy="422.9" rx="1.9" ry="7.4" transform="rotate(-9 805.35 422.9)" fill="#484848" stroke="#0e0e0e" stroke-width="1.0"/>
<ellipse cx="801.75" cy="436.0" rx="1.9" ry="6.9" transform="rotate(-9 801.75 436)" fill="#484848" stroke="#0e0e0e" stroke-width="1.0"/>
<ellipse cx="812.80" cy="422.9" rx="1.9" ry="7.4" transform="rotate(-9 812.80 422.9)" fill="#484848" stroke="#0e0e0e" stroke-width="1.0"/>
<ellipse cx="809.20" cy="436.0" rx="1.9" ry="6.9" transform="rotate(-9 809.20 436)" fill="#484848" stroke="#0e0e0e" stroke-width="1.0"/>
<ellipse cx="820.25" cy="422.9" rx="1.9" ry="7.4" transform="rotate(-9 820.25 422.9)" fill="#484848" stroke="#0e0e0e" stroke-width="1.0"/>
<ellipse cx="816.65" cy="436.0" rx="1.9" ry="6.9" transform="rotate(-9 816.65 436)" fill="#484848" stroke="#0e0e0e" stroke-width="1.0"/>
<ellipse cx="827.70" cy="422.9" rx="1.9" ry="7.4" transform="rotate(-9 827.70 422.9)" fill="#484848" stroke="#0e0e0e" stroke-width="1.0"/>
<ellipse cx="824.10" cy="436.0" rx="1.9" ry="6.9" transform="rotate(-9 824.10 436)" fill="#484848" stroke="#0e0e0e" stroke-width="1.0"/>
<ellipse cx="835.15" cy="422.9" rx="1.9" ry="7.4" transform="rotate(-9 835.15 422.9)" fill="#484848" stroke="#0e0e0e" stroke-width="1.0"/>
<ellipse cx="831.55" cy="436.0" rx="1.9" ry="6.9" transform="rotate(-9 831.55 436)" fill="#484848" stroke="#0e0e0e" stroke-width="1.0"/>
<g filter="url(#hb)"><ellipse cx="803.15" cy="423.3" rx="1.3" ry="2.6" fill="#b4b4b4"/><ellipse cx="803.45" cy="435.2" rx="1.3" ry="2.6" fill="#a8a8a8"/><ellipse cx="810.60" cy="423.3" rx="1.3" ry="2.6" fill="#b4b4b4"/><ellipse cx="810.90" cy="435.2" rx="1.3" ry="2.6" fill="#a8a8a8"/><ellipse cx="818.05" cy="423.3" rx="1.3" ry="2.6" fill="#b4b4b4"/><ellipse cx="818.35" cy="435.2" rx="1.3" ry="2.6" fill="#a8a8a8"/><ellipse cx="825.50" cy="423.3" rx="1.3" ry="2.6" fill="#b4b4b4"/><ellipse cx="825.80" cy="435.2" rx="1.3" ry="2.6" fill="#a8a8a8"/><ellipse cx="832.95" cy="423.3" rx="1.3" ry="2.6" fill="#b4b4b4"/><ellipse cx="833.25" cy="435.2" rx="1.3" ry="2.6" fill="#a8a8a8"/></g>
</g></g>
<rect x="432.9" y="415.3" width="6.6" height="14.2" rx="2.6" fill="url(#disc)" stroke="#222" stroke-width="0.8"/>
<rect x="606.9" y="415.3" width="6.1" height="14.2" rx="2.6" fill="url(#disc)" stroke="#222" stroke-width="0.8"/>
<path d="M770 412.5L806 420M770 420.5L812 426M773 427L810 430" stroke="#c9d2c9" stroke-width="0.7" fill="none" opacity="0.8"/>
<path d="M830.6 419.8L833.8 424M830.6 424L833.8 419.8" stroke="#f2e833" stroke-width="1.5"/>
<path d="M838.6 405.5V449" stroke="#fcfcec" stroke-width="1"/>
<path d="M197 412.5C192.5 414 192 432 197 434" stroke="#d6ead6" stroke-width="0.7" fill="none"/>
<rect x="276.4" y="393.6" width="7.8" height="67.6" fill="none" stroke="#444" stroke-width="1.1"/>
<rect x="426.3" y="399.2" width="64.0" height="60.2" fill="none" stroke="#111" stroke-width="1.1"/>
<rect x="600.0" y="399.2" width="62.2" height="60.4" fill="none" stroke="#333" stroke-width="1.2"/>
<rect x="795.4" y="399.2" width="34.3" height="60.6" fill="none" stroke="#111" stroke-width="1.4"/>
<path d="M198.3 453.2H231V449.6L238.8 457L231 464.4V461H198.3Z" fill="#fff" stroke="#333" stroke-width="1.1"/>
<path d="M197 439.6V449.5" stroke="#5f5" stroke-width="1"/>
<text x="196.9" y="480.3" text-anchor="start" font-family="Liberation Sans, Arial, sans-serif" font-size="13.9" fill="#111">Feed rate</text>
<text x="275.0" y="482.7" text-anchor="start" font-family="Liberation Sans, Arial, sans-serif" font-size="14.5" fill="#111">RVE 1</text>
<text x="458.5" y="479.9" text-anchor="middle" font-family="Liberation Sans, Arial, sans-serif" font-size="14.4" fill="#111">RVE 2</text>
<text x="634.4" y="478.7" text-anchor="middle" font-family="Liberation Sans, Arial, sans-serif" font-size="14.4" fill="#111">RVE 3</text>
<text x="815.0" y="478.7" text-anchor="middle" font-family="Liberation Sans, Arial, sans-serif" font-size="14.4" fill="#111">RVE 4</text>
<rect x="877" y="20" width="1" height="1" fill="#f4a6b4"/>
</svg>
</body></html>
